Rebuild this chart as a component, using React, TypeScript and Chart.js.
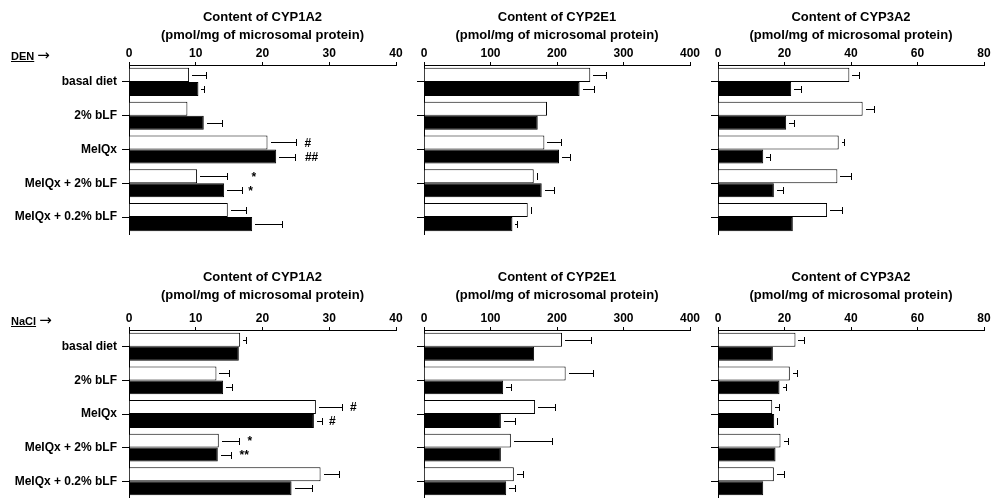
import React, { useEffect, useRef } from "react";
import { Chart, registerables } from "chart.js";

Chart.register(...registerables);

const FONT = "'Liberation Sans', Arial, Helvetica, sans-serif";

const categories = ["basal diet", "2% bLF", "MeIQx", "MeIQx + 2% bLF", "MeIQx + 0.2% bLF"];

const titleCYP1A2 = ["Content of CYP1A2", "(pmol/mg of microsomal protein)"];
const titleCYP2E1 = ["Content of CYP2E1", "(pmol/mg of microsomal protein)"];
const titleCYP3A2 = ["Content of CYP3A2", "(pmol/mg of microsomal protein)"];

const axisMax1A2 = 40;
const axisStep1A2 = 10;
const axisMax2E1 = 400;
const axisStep2E1 = 100;
const axisMax3A2 = 80;
const axisStep3A2 = 20;

// DEN row
const den1A2Open = [9.0, 8.75, 20.75, 10.2, 14.8];
const den1A2OpenErr = [2.6, 0, 4.25, 4.45, 2.8];
const den1A2Filled = [10.4, 11.2, 22.05, 14.25, 18.45];
const den1A2FilledErr = [0.9, 2.75, 2.75, 2.75, 4.4];
const den1A2Marks = [
  { cat: 2, series: 0, at: 26.8, text: "#" },
  { cat: 2, series: 1, at: 27.35, text: "##" },
  { cat: 3, series: 0, at: 18.7, text: "*" },
  { cat: 3, series: 1, at: 18.2, text: "*" },
];

const den2E1Open = [250, 185, 181, 165, 156];
const den2E1OpenErr = [23, 0, 25, 5, 5];
const den2E1Filled = [234, 171, 203, 177, 133];
const den2E1FilledErr = [21, 0, 17, 18, 7];

const den3A2Open = [39.5, 43.5, 36.3, 35.9, 32.8];
const den3A2OpenErr = [3, 3.4, 1.5, 4.2, 4.6];
const den3A2Filled = [22.0, 20.5, 13.6, 16.8, 22.5];
const den3A2FilledErr = [3, 2.4, 2.1, 2.7, 0];

// NaCl row
const nacl1A2Open = [16.65, 13.1, 28.0, 13.45, 28.7];
const nacl1A2OpenErr = [0.95, 1.85, 3.95, 3.05, 2.8];
const nacl1A2Filled = [16.45, 14.1, 27.7, 13.3, 24.35];
const nacl1A2FilledErr = [0, 1.35, 1.25, 1.95, 3.05];
const nacl1A2Marks = [
  { cat: 2, series: 0, at: 33.6, text: "#" },
  { cat: 2, series: 1, at: 30.45, text: "#" },
  { cat: 3, series: 0, at: 18.1, text: "*" },
  { cat: 3, series: 1, at: 17.25, text: "**" },
];

const nacl2E1Open = [207.6, 213, 167, 130.6, 135.1];
const nacl2E1OpenErr = [43.4, 40.6, 30.6, 61.6, 14.5];
const nacl2E1Filled = [165.6, 119, 115.6, 115.6, 123.6];
const nacl2E1FilledErr = [0, 12, 21.4, 0, 13.4];

const nacl3A2Open = [23.3, 21.6, 16.3, 18.8, 16.8];
const nacl3A2OpenErr = [2.7, 2.1, 2.1, 2.4, 2.9];
const nacl3A2Filled = [16.5, 18.5, 16.9, 17.3, 13.6];
const nacl3A2FilledErr = [0, 2.0, 0.9, 0, 0];

type Mark = { cat: number; series: number; at: number; text: string };

type PanelProps = {
  left: number;
  top: number;
  width: number;
  height: number;
  yAxisWidth: number;
  padRight: number;
  padBottom: number;
  titlePadTop: number;
  xAxisHeight: number;
  title: string[];
  max: number;
  step: number;
  open: number[];
  openErr: number[];
  filled: number[];
  filledErr: number[];
  marks?: Mark[];
  showLabels: boolean;
};

function Panel(p: PanelProps) {
  const ref = useRef<HTMLCanvasElement>(null);
  useEffect(() => {
    if (!ref.current) return;
    const errs = [p.openErr, p.filledErr];
    const marks = p.marks || [];
    const errorPlugin = {
      id: "errorBars",
      afterDatasetsDraw(chart: any) {
        const ctx = chart.ctx;
        const xs = chart.scales.x;
        ctx.save();
        ctx.strokeStyle = "#000";
        ctx.lineWidth = 1;
        [0, 1].forEach((di) => {
          const meta = chart.getDatasetMeta(di);
          const vals = chart.data.datasets[di].data as number[];
          vals.forEach((v, i) => {
            const e = errs[di][i];
            if (!e) return;
            const bar = meta.data[i];
            const y = Math.round(bar.y) + 0.5;
            const x0 = xs.getPixelForValue(v) + 3;
            const x1 = Math.max(x0, xs.getPixelForValue(v + e));
            const xc = Math.round(x1) + 0.5;
            ctx.beginPath();
            ctx.moveTo(Math.round(x0), y);
            ctx.lineTo(xc, y);
            ctx.moveTo(xc, y - 3.5);
            ctx.lineTo(xc, y + 3.5);
            ctx.stroke();
          });
        });
        ctx.fillStyle = "#000";
        ctx.font = `bold 12px ${FONT}`;
        ctx.textAlign = "center";
        ctx.textBaseline = "middle";
        marks.forEach((m) => {
          const bar = chart.getDatasetMeta(m.series).data[m.cat];
          ctx.fillText(m.text, xs.getPixelForValue(m.at), bar.y + 1);
        });
        ctx.restore();
      },
    };
    const tickFont = { family: FONT, size: 12, weight: "bold" as const };
    const chart = new Chart(ref.current, {
      type: "bar",
      data: {
        labels: categories,
        datasets: [
          {
            data: p.open,
            backgroundColor: "#ffffff",
            borderColor: "#000000",
            borderWidth: 1,
            categoryPercentage: 0.83,
            barPercentage: 1,
          },
          {
            data: p.filled,
            backgroundColor: "#000000",
            borderColor: "#000000",
            borderWidth: 1,
            categoryPercentage: 0.83,
            barPercentage: 1,
          },
        ],
      },
      options: {
        indexAxis: "y",
        responsive: false,
        animation: false,
        events: [],
        layout: { padding: { left: 0, right: p.padRight, top: 0, bottom: p.padBottom } },
        plugins: {
          legend: { display: false },
          tooltip: { enabled: false },
          title: {
            display: true,
            text: p.title,
            fullSize: false,
            color: "#000",
            font: { family: FONT, size: 13, weight: "bold", lineHeight: 18 / 13 },
            padding: { top: p.titlePadTop, bottom: 0 },
          },
        },
        scales: {
          x: {
            position: "top",
            min: 0,
            max: p.max,
            ticks: { stepSize: p.step, color: "#000", font: tickFont, padding: 1 },
            grid: { drawOnChartArea: false, drawTicks: true, tickLength: 3, color: "#000" },
            border: { display: true, color: "#000", width: 1 },
            afterFit: (s: any) => {
              s.height = p.xAxisHeight;
              s.paddingLeft = 0;
              s.paddingRight = 0;
            },
          },
          y: {
            ticks: { display: p.showLabels, color: "#000", font: tickFont, padding: 5 },
            grid: { drawOnChartArea: false, drawTicks: true, tickLength: 7, color: "#000", offset: false },
            border: { display: true, color: "#000", width: 1 },
            afterFit: (s: any) => {
              s.width = p.yAxisWidth;
              s.paddingTop = 0;
              s.paddingBottom = 0;
            },
          },
        },
      },
      plugins: [errorPlugin],
    } as any);
    return () => chart.destroy();
  }, []);
  return (
    <canvas
      ref={ref}
      width={p.width}
      height={p.height}
      style={{ position: "absolute", left: p.left, top: p.top, width: p.width, height: p.height, display: "block" }}
    />
  );
}

const topRow = { top: 0, height: 250, padBottom: 16, titlePadTop: 8, xAxisHeight: 21 };
const bottomRow = { top: 250, height: 248, padBottom: 0, titlePadTop: 18, xAxisHeight: 26 };
const col1 = { left: 0, width: 410, yAxisWidth: 129, padRight: 14, showLabels: true };
const col2 = { left: 410, width: 294, yAxisWidth: 14, padRight: 14, showLabels: false };
const col3 = { left: 704, width: 287, yAxisWidth: 14, padRight: 7, showLabels: false };

const rowLabelStyle: React.CSSProperties = {
  position: "absolute",
  left: 11,
  fontFamily: FONT,
  fontWeight: "bold",
  fontSize: 11,
  lineHeight: "14px",
  color: "#000",
  whiteSpace: "nowrap",
};

const arrowStyle: React.CSSProperties = {
  fontFamily: "'DejaVu Sans', sans-serif",
  fontWeight: "normal",
  fontSize: 15,
  lineHeight: "14px",
};

export default function App() {
  return (
    <div style={{ position: "absolute", left: 0, top: 0, width: 991, height: 498, background: "#fff", overflow: "hidden" }}>
      <Panel {...topRow} {...col1} title={titleCYP1A2} max={axisMax1A2} step={axisStep1A2}
        open={den1A2Open} openErr={den1A2OpenErr} filled={den1A2Filled} filledErr={den1A2FilledErr} marks={den1A2Marks} />
      <Panel {...topRow} {...col2} title={titleCYP2E1} max={axisMax2E1} step={axisStep2E1}
        open={den2E1Open} openErr={den2E1OpenErr} filled={den2E1Filled} filledErr={den2E1FilledErr} />
      <Panel {...topRow} {...col3} title={titleCYP3A2} max={axisMax3A2} step={axisStep3A2}
        open={den3A2Open} openErr={den3A2OpenErr} filled={den3A2Filled} filledErr={den3A2FilledErr} />
      <Panel {...bottomRow} {...col1} title={titleCYP1A2} max={axisMax1A2} step={axisStep1A2}
        open={nacl1A2Open} openErr={nacl1A2OpenErr} filled={nacl1A2Filled} filledErr={nacl1A2FilledErr} marks={nacl1A2Marks} />
      <Panel {...bottomRow} {...col2} title={titleCYP2E1} max={axisMax2E1} step={axisStep2E1}
        open={nacl2E1Open} openErr={nacl2E1OpenErr} filled={nacl2E1Filled} filledErr={nacl2E1FilledErr} />
      <Panel {...bottomRow} {...col3} title={titleCYP3A2} max={axisMax3A2} step={axisStep3A2}
        open={nacl3A2Open} openErr={nacl3A2OpenErr} filled={nacl3A2Filled} filledErr={nacl3A2FilledErr} />
      <div style={{ ...rowLabelStyle, top: 48 }}>
        <span style={{ textDecoration: "underline" }}>DEN</span> <span style={arrowStyle}>→</span>
      </div>
      <div style={{ ...rowLabelStyle, top: 313 }}>
        <span style={{ textDecoration: "underline" }}>NaCl</span> <span style={arrowStyle}>→</span>
      </div>
    </div>
  );
}
